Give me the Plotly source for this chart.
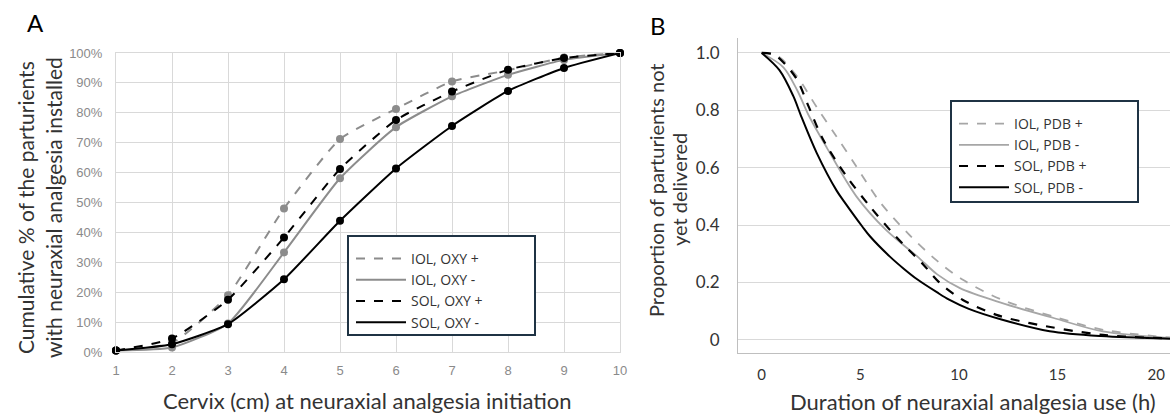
import plotly.graph_objects as go

# ---------- Panel A data ----------
cervix = [1, 2, 3, 4, 5, 6, 7, 8, 9, 10]
iol_oxy_plus = [0.5, 3.0, 19.0, 48.0, 71.2, 81.3, 90.5, 94.2, 98.5, 100]
iol_oxy_minus = [0.5, 1.5, 9.5, 33.3, 58.1, 75.2, 85.5, 92.7, 97.7, 100]
sol_oxy_plus = [0.5, 4.5, 17.5, 38.3, 61.2, 77.6, 87.1, 94.4, 98.3, 100]
sol_oxy_minus = [0.5, 2.6, 9.3, 24.3, 43.9, 61.4, 75.6, 87.3, 95.0, 100]
a_yticks = [0, 10, 20, 30, 40, 50, 60, 70, 80, 90, 100]
a_yticklabels = [f"{v}%" for v in a_yticks]

# ---------- Panel B data ----------
iol_pdb_plus_h = [0, 0.8, 1.8, 2.8, 3.8, 4.8, 6.0, 7.5, 8.9, 10.2, 12.2, 14.8, 17.3, 20.7]
iol_pdb_plus_p = [1.0, 0.99, 0.917, 0.81, 0.708, 0.604, 0.48, 0.365, 0.275, 0.209, 0.139, 0.081, 0.035, 0.008]
iol_pdb_minus_h = [0, 1.1, 1.8, 2.4, 3.3, 4.8, 6.3, 7.9, 8.9, 10.05, 12.2, 14.8, 17.3, 20.7]
iol_pdb_minus_p = [1.0, 0.95, 0.87, 0.78, 0.67, 0.50, 0.383, 0.29, 0.228, 0.18, 0.128, 0.076, 0.029, 0.006]
sol_pdb_plus_h = [0, 0.6, 1.2, 1.8, 2.4, 3.1, 4.3, 5.5, 6.8, 8.2, 9.0, 10.2, 11.9, 13.6, 17.3, 20.7]
sol_pdb_plus_p = [1.0, 0.995, 0.96, 0.906, 0.81, 0.70, 0.57, 0.464, 0.36, 0.262, 0.20, 0.139, 0.087, 0.058, 0.017, 0.005]
sol_pdb_minus_h = [0, 0.9, 1.6, 2.0, 2.8, 3.8, 4.2, 5.1, 5.5, 6.5, 7.2, 7.9, 8.9, 9.5, 10.5, 12.2, 14.6, 17.2, 20.7]
sol_pdb_minus_p = [1.0, 0.94, 0.85, 0.78, 0.65, 0.52, 0.48, 0.395, 0.36, 0.29, 0.248, 0.21, 0.165, 0.14, 0.108, 0.07, 0.03, 0.013, 0.004]
b_yticks = [0, 0.2, 0.4, 0.6, 0.8, 1.0]
b_yticklabels = ["0", "0.2", "0.4", "0.6", "0.8", "1.0"]
b_xticks = [0, 5, 10, 15, 20]

W, H = 1170, 414
GREY = "#8c8c8c"
GREY_B = "#a6a6a6"
GRID = "#d9d9d9"
TXT = "#333333"
TICK_A = "#8a8a8a"
BOX = "#1f3344"
FONT = "Lato"
CLEAR = "rgba(0,0,0,0)"

def px_x(p):
    return p / W

def px_y(p):
    return 1 - p / H

fig = go.Figure()

# Panel A traces
a_series = [
    ("IOL, OXY +", iol_oxy_plus, GREY, "dash"),
    ("IOL, OXY -", iol_oxy_minus, GREY, "solid"),
    ("SOL, OXY +", sol_oxy_plus, "black", "dash"),
    ("SOL, OXY -", sol_oxy_minus, "black", "solid"),
]
for name, ys, col, dash in a_series:
    fig.add_trace(go.Scatter(
        x=cervix, y=ys, mode="lines+markers", name=name, showlegend=False,
        line=dict(color=col, width=2, dash=dash, shape="spline", smoothing=0.5),
        marker=dict(color=col, size=8), cliponaxis=False,
        xaxis="x", yaxis="y"))
for name, ys, col, dash in a_series:
    fig.add_trace(go.Scatter(
        x=[None], y=[None], mode="lines", name=name, legend="legend",
        line=dict(color=col, width=2, dash=dash),
        xaxis="x", yaxis="y"))

# Panel B traces
b_series = [
    ("IOL, PDB +", iol_pdb_plus_h, iol_pdb_plus_p, GREY_B, "dash", 1.8),
    ("IOL, PDB -", iol_pdb_minus_h, iol_pdb_minus_p, GREY_B, "solid", 1.8),
    ("SOL, PDB +", sol_pdb_plus_h, sol_pdb_plus_p, "black", "dash", 2.2),
    ("SOL, PDB -", sol_pdb_minus_h, sol_pdb_minus_p, "black", "solid", 2.0),
]
for name, xs, ys, col, dash, w in b_series:
    fig.add_trace(go.Scatter(
        x=xs, y=ys, mode="lines", name=name, legend="legend2",
        line=dict(color=col, width=w, dash=dash, shape="spline", smoothing=0.9),
        xaxis="x2", yaxis="y2"))

def ann(text, x, y, size, angle=0, color=TXT):
    return dict(text=text, x=px_x(x), y=px_y(y), xref="paper", yref="paper",
                xanchor="center", yanchor="middle", textangle=angle,
                showarrow=False, font=dict(family=FONT, size=size, color=color))

def box(x0, y0, x1, y1):
    return dict(type="rect", xref="paper", yref="paper",
                x0=px_x(x0), x1=px_x(x1), y0=px_y(y1), y1=px_y(y0),
                fillcolor="white", line=dict(color=BOX, width=2), layer="above")

legend_common = dict(xanchor="left", yanchor="top", bgcolor=CLEAR,
                     borderwidth=0, font=dict(family="Open Sans", size=14, color=TXT),
                     itemwidth=50, tracegroupgap=0)

fig.update_layout(
    width=W, height=H,
    margin=dict(l=0, r=0, t=0, b=0),
    paper_bgcolor="white", plot_bgcolor="white",
    font=dict(family=FONT, color=TXT),
    xaxis=dict(domain=[px_x(116), px_x(620)], range=[1, 10],
               tickvals=cervix, ticktext=[str(c) for c in cervix],
               tickfont=dict(family="Liberation Sans", size=13, color=TICK_A),
               showgrid=True, gridcolor=GRID, gridwidth=1,
               showline=True, mirror=True, linecolor=GRID, linewidth=1,
               zeroline=False, ticks="outside", ticklen=6, tickcolor=CLEAR,
               automargin=False),
    yaxis=dict(domain=[px_y(352), px_y(53)], range=[0, 100],
               tickvals=a_yticks, ticktext=a_yticklabels,
               tickfont=dict(family="Liberation Sans", size=13, color=TICK_A),
               showgrid=True, gridcolor=GRID, gridwidth=1,
               showline=True, mirror=True, linecolor=GRID, linewidth=1,
               zeroline=False, ticks="outside", ticklen=10, tickcolor=CLEAR,
               automargin=False),
    xaxis2=dict(domain=[px_x(738), 1.0], range=[-1.2, 20.7], anchor="y2",
                tickvals=b_xticks, ticktext=[str(v) for v in b_xticks],
                tickfont=dict(family=FONT, size=15, color=TXT),
                showgrid=False, showline=True, linecolor="#bfbfbf", linewidth=1,
                zeroline=False, ticks="outside", ticklen=8, tickcolor=CLEAR,
                automargin=False),
    yaxis2=dict(domain=[px_y(353), px_y(38)], range=[-0.046, 1.052], anchor="x2",
                tickvals=b_yticks, ticktext=b_yticklabels,
                tickfont=dict(family=FONT, size=17, color=TXT),
                showgrid=True, gridcolor=GRID, gridwidth=1,
                showline=True, linecolor="#bfbfbf", linewidth=1,
                zeroline=False, ticks="outside", ticklen=14, tickcolor=CLEAR,
                automargin=False),
    legend=dict(x=px_x(351), y=px_y(243), **legend_common),
    legend2=dict(x=px_x(954), y=px_y(108), **legend_common),
    shapes=[box(348, 236, 535, 335), box(951, 101, 1138, 202)],
    annotations=[
        ann("A", 35, 22, 24, color="black"),
        ann("B", 658, 25, 24, color="black"),
        ann("Cumulative % of the parturients", 25, 208, 21, angle=-90),
        ann("with neuraxial analgesia installed", 53, 208, 21, angle=-90),
        ann("Cervix (cm) at neuraxial analgesia initiation", 367, 400, 22),
        ann("Proportion of parturients not", 656, 190, 20, angle=-90),
        ann("yet delivered", 679, 190, 20, angle=-90),
        ann("Duration of neuraxial analgesia use (h)", 973, 401, 22),
    ],
)

fig.write_html("out.html", config={"displayModeBar": False},
               post_script="document.body.style.margin='0';document.body.style.padding='0';")
